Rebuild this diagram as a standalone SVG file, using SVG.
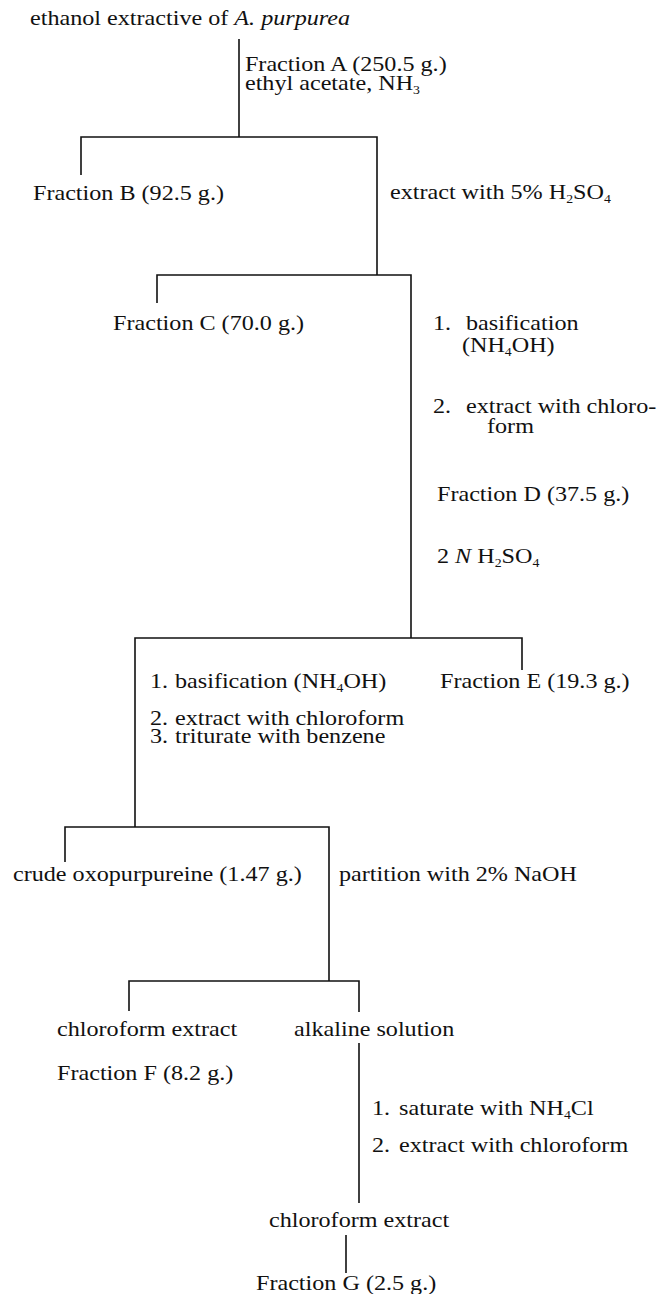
<svg xmlns="http://www.w3.org/2000/svg" width="659" height="1294" viewBox="0 0 659 1294">
<style>
text{font-family:"Liberation Serif","Times New Roman",serif;font-size:21px;fill:#111}
.sub{font-size:12px}
.it{font-style:italic}
.ln{fill:none;stroke:#111;stroke-width:1.6}
</style>
<rect width="659" height="1294" fill="#fff"/>
<g id="connectors" class="ln">
<path d="M239 39V137"/>
<path d="M81 175V137H377V275"/>
<path d="M157 303V275H411V638"/>
<path d="M522 670V638H135V827"/>
<path d="M65 862V827H329V981"/>
<path d="M129 1011V981H359V1012"/>
<path d="M359 1043V1203"/>
<path d="M346 1235V1273"/>
</g>
<g id="labels" transform="scale(1.15 1)">
<g id="n_title"><text x="26.1" y="25">ethanol extractive of <tspan class="it">A. purpurea</tspan></text></g>
<g id="lbl_A"><text x="213" y="71">Fraction A (250.5 g.)</text><text x="213" y="90">ethyl acetate, NH<tspan class="sub" dy="4">3</tspan></text></g>
<g id="n_B"><text x="28.7" y="200">Fraction B (92.5 g.)</text></g>
<g id="lbl_H2SO4"><text x="339.1" y="199">extract with 5% H<tspan class="sub" dy="4">2</tspan><tspan dy="-4">SO</tspan><tspan class="sub" dy="4">4</tspan></text></g>
<g id="n_C"><text x="98.3" y="330">Fraction C (70.0 g.)</text></g>
<g id="lbl_steps1">
<text x="376.5" y="330">1.</text><text x="405.2" y="330">basification</text>
<text x="401.7" y="352">(NH<tspan class="sub" dy="4">4</tspan><tspan dy="-4">OH)</tspan></text>
<text x="376.5" y="413">2.</text><text x="405.2" y="413">extract with chloro-</text>
<text x="423.5" y="433">form</text>
</g>
<g id="n_D"><text x="380" y="501">Fraction D (37.5 g.)</text></g>
<g id="lbl_2N"><text x="380" y="563">2 <tspan class="it">N</tspan> H<tspan class="sub" dy="4">2</tspan><tspan dy="-4">SO</tspan><tspan class="sub" dy="4">4</tspan></text></g>
<g id="lbl_steps2">
<text x="130.4" y="688">1.</text><text x="152.2" y="688">basification (NH<tspan class="sub" dy="4">4</tspan><tspan dy="-4">OH)</tspan></text>
<text x="130.4" y="725">2.</text><text x="152.2" y="725">extract with chloroform</text>
<text x="130.4" y="743">3.</text><text x="152.2" y="743">triturate with benzene</text>
</g>
<g id="n_E"><text x="382.6" y="688">Fraction E (19.3 g.)</text></g>
<g id="n_crude"><text x="11.3" y="881">crude oxopurpureine (1.47 g.)</text></g>
<g id="lbl_partition"><text x="294.8" y="881">partition with 2% NaOH</text></g>
<g id="n_F"><text x="49.6" y="1036">chloroform extract</text><text x="49.6" y="1080">Fraction F (8.2 g.)</text></g>
<g id="n_alk"><text x="255.7" y="1036">alkaline solution</text></g>
<g id="lbl_steps3">
<text x="323.5" y="1115">1.</text><text x="347" y="1115">saturate with NH<tspan class="sub" dy="4">4</tspan><tspan dy="-4">Cl</tspan></text>
<text x="323.5" y="1152">2.</text><text x="347" y="1152">extract with chloroform</text>
</g>
<g id="n_chl2"><text x="233.9" y="1227">chloroform extract</text></g>
<g id="n_G"><text x="222.6" y="1290">Fraction G (2.5 g.)</text></g>
</g>
</svg>
